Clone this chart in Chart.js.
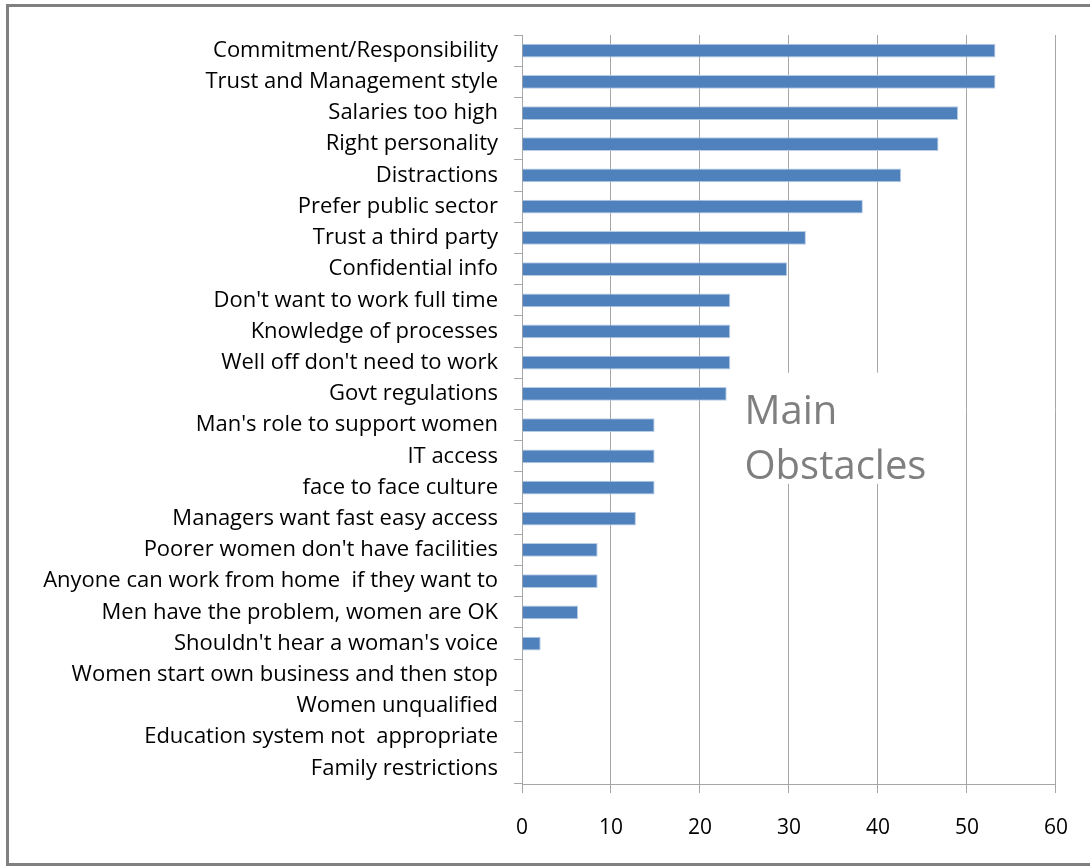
<!DOCTYPE html>
<html>
<head>
<meta charset="utf-8">
<script src="https://cdn.jsdelivr.net/npm/chart.js@4"></script>
<style>
  html, body { margin: 0; padding: 0; background: #fff; }
  #wrap { position: relative; width: 1090px; height: 867px; overflow: hidden; }
  #frame { position: absolute; left: 6px; top: 4px; width: 1200px; height: 856px; border: 3px solid #808080; box-sizing: content-box; }
  #chartBox { position: absolute; left: 0; top: 0; width: 1090px; height: 867px; }
</style>
</head>
<body>
<div id="wrap">
  <div id="frame"></div>
  <div id="chartBox"><canvas id="obstacleChart"></canvas></div>
</div>
<script>
// Obstacles
const categories = [
    'Commitment/Responsibility',
    'Trust and Management style',
    'Salaries too high',
    'Right personality',
    'Distractions',
    'Prefer public sector',
    'Trust a third party',
    'Confidential info',
    "Don't want to work full time",
    'Knowledge of processes',
    "Well off don't need to work",
    'Govt regulations',
    "Man's role to support women",
    'IT access',
    'face to face culture',
    'Managers want fast easy access',
    "Poorer women don't have facilities",
    'Anyone can work from home  if they want to',
    'Men have the problem, women are OK',
    "Shouldn't hear a woman's voice",
    'Women start own business and then stop',
    'Women unqualified',
    'Education system not  appropriate',
    'Family restrictions'
];

const scores = [53.2, 53.2, 49.0, 46.8, 42.6, 38.3, 31.9, 29.8, 23.4, 23.4, 23.4, 23.0,
    14.9, 14.9, 14.9, 12.8, 8.5, 8.5, 6.3, 2.1, 0, 0, 0, 0];

const xTicks = [0, 10, 20, 30, 40, 50, 60];
const titleLines = ['Main', 'Obstacles'];

const FONT = "'Open Sans', sans-serif";

// Title sits inside the plot with a white box behind it
const titleInPlot = {
    id: 'titleInPlot',
    beforeDatasetsDraw(chart) {
        const ctx = chart.ctx;
        const x = chart.scales.x;
        const y = chart.scales.y;
        const left = x.getPixelForValue(24.2);
        const top = y.getPixelForValue(10.32);
        const bottom = y.getPixelForValue(13.88);
        ctx.save();
        ctx.fillStyle = '#ffffff';
        ctx.fillRect(left, top, 205, bottom - top);
        ctx.fillStyle = '#7f7f7f';
        ctx.font = '40px ' + FONT;
        ctx.textAlign = 'left';
        ctx.textBaseline = 'middle';
        const tx = x.getPixelForValue(25.0);
        ctx.fillText(titleLines[0], tx, y.getPixelForValue(11.6));
        ctx.fillText(titleLines[1], tx, y.getPixelForValue(13.35));
        ctx.restore();
    }
};

new Chart(document.getElementById('obstacleChart'), {
    type: 'bar',
    data: {
        labels: categories,
        datasets: [{
            data: scores,
            backgroundColor: '#4f81bd',
            borderColor: '#b8cce4',
            borderWidth: 1,
            barPercentage: 0.44,
            categoryPercentage: 1
        }]
    },
    options: {
        indexAxis: 'y',
        responsive: true,
        maintainAspectRatio: false,
        animation: false,
        layout: { padding: { top: 35, right: 33, left: 0, bottom: 0 } },
        plugins: {
            legend: { display: false },
            tooltip: { enabled: false }
        },
        scales: {
            x: {
                min: 0,
                max: 60,
                afterBuildTicks: s => { s.ticks = xTicks.map(v => ({ value: v })); },
                afterFit: s => { s.height = 83; },
                grid: { color: '#a6a6a6', lineWidth: 1, tickLength: 9 },
                border: { color: '#a6a6a6', width: 1 },
                ticks: { color: '#000', font: { family: FONT, size: 21 }, padding: 22 }
            },
            y: {
                afterFit: s => { s.width = 522; },
                grid: { offset: true, drawOnChartArea: false, color: '#a6a6a6', tickLength: 8 },
                border: { color: '#a6a6a6', width: 1 },
                ticks: { color: '#000', font: { family: FONT, size: 22 }, padding: 16, autoSkip: false }
            }
        }
    },
    plugins: [titleInPlot]
});
</script>
</body>
</html>
